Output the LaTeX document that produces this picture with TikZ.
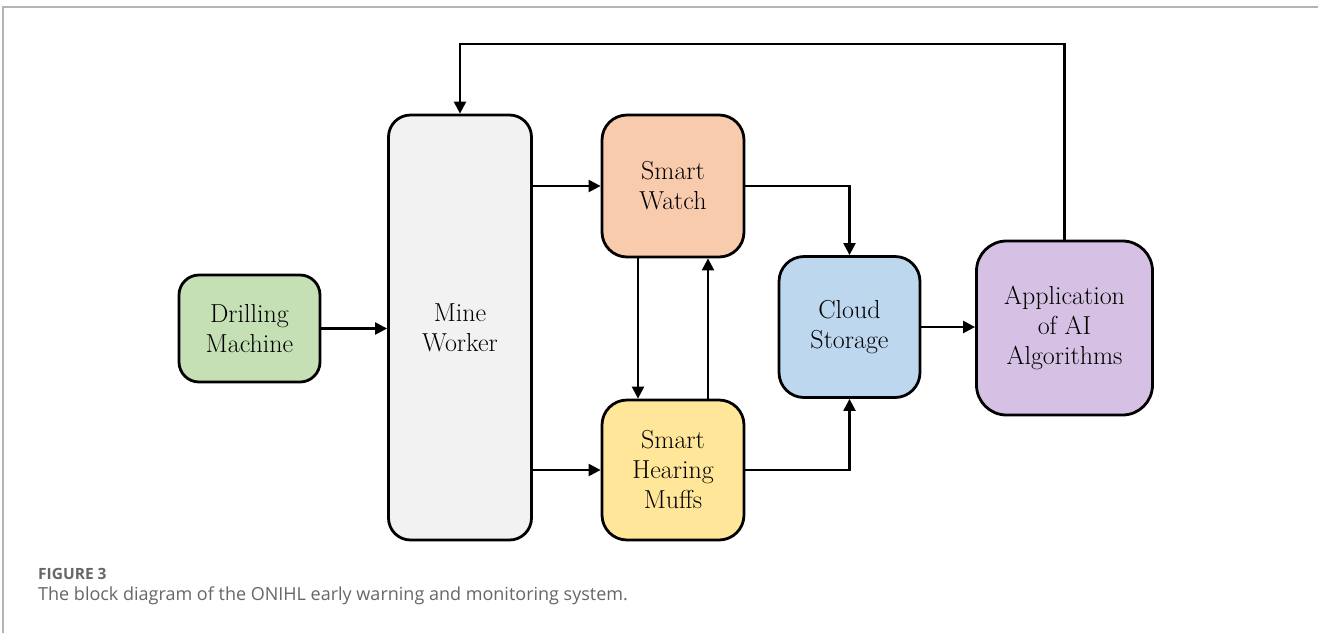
\documentclass[tikz,border=0pt]{standalone}
\usepackage{fontspec}
\newfontfamily\capfont{Open Sans}
\usetikzlibrary{arrows.meta,calc}
\definecolor{drillfill}{HTML}{C5E0B4}
\definecolor{minefill}{HTML}{F2F2F2}
\definecolor{watchfill}{HTML}{F8CBAD}
\definecolor{mufffill}{HTML}{FFE699}
\definecolor{cloudfill}{HTML}{BDD7EE}
\definecolor{appfill}{HTML}{D6C1E4}
\definecolor{framegray}{HTML}{B4B4B4}
\definecolor{capgray}{HTML}{666666}
\tikzset{
  block/.style={draw=black, line width=2.8pt, rounded corners=22pt, align=center,
    inner sep=0pt, font=\fontsize{26}{30}\selectfont},
  flow/.style={line width=2.3pt, -{Triangle[length=12pt,width=12pt]}},
}
\begin{document}
\begin{tikzpicture}[x=1pt,y=-1pt]
\useasboundingbox (0,0) rectangle (1318,633);
% page frame
\draw[framegray, line width=2pt] (3,633) -- (3,7) -- (1318,7);

% blocks
\node[block, fill=drillfill, minimum width=141pt, minimum height=107pt, rounded corners=20pt]
  (drill) at (249.5,328.5) {Drilling\\Machine};
\node[block, fill=minefill, minimum width=143pt, minimum height=425pt]
  (mine) at (460,327.5) {Mine\\Worker};
\node[block, fill=watchfill, minimum width=142pt, minimum height=142pt, rounded corners=25pt]
  (watch) at (673,186) {Smart\\Watch};
\node[block, fill=mufffill, minimum width=142pt, minimum height=140pt, rounded corners=25pt]
  (muffs) at (673,470) {Smart\\Hearing\\Muffs};
\node[block, fill=cloudfill, minimum width=141pt, minimum height=141pt, rounded corners=25pt]
  (cloud) at (849.5,327) {Cloud\\Storage};
\node[block, fill=appfill, minimum width=176pt, minimum height=174pt, rounded corners=30pt]
  (app) at (1064.5,328) {Application\\of AI\\Algorithms};

% connectors
\draw[flow] (drill.east) -- (mine.west |- drill.east);
\draw[flow] (mine.east |- watch.west) -- (watch.west);
\draw[flow] (mine.east |- muffs.west) -- (muffs.west);
\draw[flow] ([xshift=-35pt]watch.south) -- ([xshift=-35pt]muffs.north);
\draw[flow] ([xshift=35pt]muffs.north) -- ([xshift=35pt]watch.south);
\draw[flow] (watch.east) -| (cloud.north);
\draw[flow] (muffs.east) -| (cloud.south);
\draw[flow] (cloud.east) -- (app.west |- cloud.east);
\coordinate (fbtop) at (0,44);
\draw[flow] (app.north) |- (mine.north |- fbtop) -- (mine.north);

% caption
\node[anchor=base west, inner sep=0pt, text=capgray, font=\capfont\bfseries\fontsize{15.5}{18}\selectfont]
  (figlabel) at (38,579) {FIGURE 3};
\node[anchor=base west, inner sep=0pt, text=capgray, font=\capfont\fontsize{18}{22}\selectfont]
  (figtext) at (38,600) {The block diagram of the ONIHL early warning and monitoring system.};
\end{tikzpicture}
\end{document}
